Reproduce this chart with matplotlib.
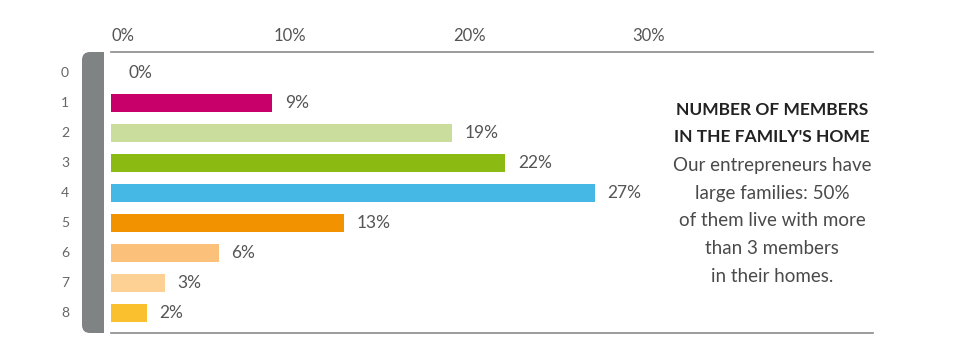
import matplotlib
matplotlib.use("Agg")
import matplotlib.pyplot as plt
from matplotlib.patches import FancyBboxPatch, Rectangle

categories = ["0", "1", "2", "3", "4", "5", "6", "7", "8"]
values = [0, 9, 19, 22, 27, 13, 6, 3, 2]
colors = ["#FFFFFF", "#C8006A", "#CADD9C", "#8BBB12", "#45B8E6",
          "#F39200", "#FBC07A", "#FDD093", "#FBC02D"]
tick_vals = [0, 10, 20, 30]
tick_labels = ["0%", "10%", "20%", "30%"]
title_lines = ["NUMBER OF MEMBERS", "IN THE FAMILY'S HOME"]
body_lines = ["Our entrepreneurs have", "large families: 50%",
              "of them live with more", "than 3 members", "in their homes."]

plt.rcParams['font.family'] = ['Lato', 'DejaVu Sans']

W, H = 960, 359
fig = plt.figure(figsize=(W / 100, H / 100), dpi=100)
ax = fig.add_axes([111 / W, (H - 333) / H, (873 - 111) / W, (333 - 52) / H])

y = list(range(len(categories)))
ax.barh(y, values, height=0.6, color=colors, edgecolor="none")
for yi, v in zip(y, values):
    ax.text(v + 0.7 if v > 0 else 1.0, yi, f"{v}%", va="center", ha="left",
            fontsize=12.5, color="#555555")

ax.set_xlim(0, 42.5)
ax.set_ylim(8.67, -0.7)
ax.xaxis.tick_top()
ax.set_xticks(tick_vals)
ax.set_xticklabels(tick_labels, fontsize=12, color="#555555")
ax.tick_params(axis="x", length=0, pad=6)
ax.get_xticklabels()[0].set_horizontalalignment("left")
ax.set_yticks([])
for s in ["left", "right"]:
    ax.spines[s].set_visible(False)
for s in ["top", "bottom"]:
    ax.spines[s].set_color("#8a8a8a")
    ax.spines[s].set_linewidth(1.2)

# category labels
for yi, c in zip(y, categories):
    ax.text(-46 / 17.93, yi, c, ha="center", va="center", fontsize=10,
            color="#666666", clip_on=False)

# grey rounded bar (display pixel coords)
gray = "#808384"
fb = FancyBboxPatch((82 + 8, H - 333 + 8), 22 - 16, 281 - 16,
                    boxstyle="round,pad=8", facecolor=gray, edgecolor="none",
                    transform=None)
fig.patches.append(fb)
fig.patches.append(Rectangle((94, H - 333), 10, 281, facecolor=gray,
                             edgecolor="none", transform=None))

# side text
x_c = 772 / W
ypix = [110, 137]
for t, yp in zip(title_lines, ypix):
    fig.text(x_c, (H - yp) / H, t, ha="center", va="center", fontsize=12.5,
             fontweight="bold", color="#222222")
for i, t in enumerate(body_lines):
    yp = 166 + i * 27.5
    fig.text(x_c, (H - yp) / H, t, ha="center", va="center", fontsize=13.5,
             fontweight="normal", color="#4a4a4a")

fig.savefig("out.png", dpi=100)
